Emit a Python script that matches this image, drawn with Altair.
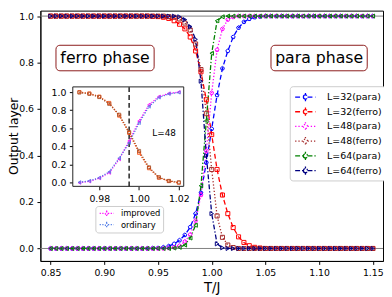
import altair as alt
import pandas as pd

# ---------------- data ----------------
T = [0.850, 0.855, 0.860, 0.865, 0.870, 0.875, 0.880, 0.885, 0.890, 0.895,
     0.900, 0.905, 0.910, 0.915, 0.920, 0.925, 0.930, 0.935, 0.940, 0.945,
     0.950, 0.955, 0.960, 0.965, 0.970, 0.975, 0.980, 0.985, 0.990, 0.995,
     1.000, 1.005, 1.010, 1.015, 1.020, 1.025, 1.030, 1.035, 1.040, 1.045,
     1.050, 1.055, 1.060, 1.065, 1.070, 1.075, 1.080, 1.085, 1.090, 1.095,
     1.100, 1.105, 1.110, 1.115, 1.120, 1.125, 1.130, 1.135, 1.140, 1.145,
     1.150]

para_32 = [0, 0, 0, 0, 0, 0, 0, 0, 0, 0,
           0, 0, 0, 0, 0, 0, 0, 0, 0, 0.001,
           0.002, 0.005, 0.010, 0.020, 0.035, 0.058, 0.092, 0.150, 0.240, 0.370,
           0.515, 0.660, 0.775, 0.850, 0.910, 0.950, 0.975, 0.988, 0.995, 0.998,
           1, 1, 1, 1, 1, 1, 1, 1, 1, 1,
           1, 1, 1, 1, 1, 1, 1, 1, 1, 1,
           1]
ferro_32 = [1, 1, 1, 1, 1, 1, 1, 1, 1, 1,
            1, 1, 1, 1, 1, 1, 1, 1, 1, 0.999,
            0.998, 0.995, 0.990, 0.980, 0.965, 0.945, 0.910, 0.850, 0.760, 0.640,
            0.490, 0.340, 0.230, 0.150, 0.090, 0.050, 0.026, 0.012, 0.005, 0.002,
            0, 0, 0, 0, 0, 0, 0, 0, 0, 0,
            0, 0, 0, 0, 0, 0, 0, 0, 0, 0,
            0]
para_48 = [0, 0, 0, 0, 0, 0, 0, 0, 0, 0,
           0, 0, 0, 0, 0, 0, 0, 0, 0, 0,
           0, 0, 0.002, 0.005, 0.012, 0.030, 0.060, 0.120, 0.230, 0.420,
           0.670, 0.855, 0.945, 0.985, 0.996, 1, 1, 1, 1, 1,
           1, 1, 1, 1, 1, 1, 1, 1, 1, 1,
           1, 1, 1, 1, 1, 1, 1, 1, 1, 1,
           1]
ferro_48 = [1, 1, 1, 1, 1, 1, 1, 1, 1, 1,
            1, 1, 1, 1, 1, 1, 1, 1, 1, 1,
            1, 1, 0.998, 0.995, 0.988, 0.970, 0.940, 0.880, 0.770, 0.580,
            0.340, 0.140, 0.048, 0.015, 0.004, 0, 0, 0, 0, 0,
            0, 0, 0, 0, 0, 0, 0, 0, 0, 0,
            0, 0, 0, 0, 0, 0, 0, 0, 0, 0,
            0]
para_64 = [0, 0, 0, 0, 0, 0, 0, 0, 0, 0,
           0, 0, 0, 0, 0, 0, 0, 0, 0, 0,
           0, 0, 0, 0.002, 0.005, 0.015, 0.045, 0.100, 0.270, 0.550,
           0.840, 0.980, 0.997, 1, 1, 1, 1, 1, 1, 1,
           1, 1, 1, 1, 1, 1, 1, 1, 1, 1,
           1, 1, 1, 1, 1, 1, 1, 1, 1, 1,
           1]
ferro_64 = [1, 1, 1, 1, 1, 1, 1, 1, 1, 1,
            1, 1, 1, 1, 1, 1, 1, 1, 1, 1,
            1, 1, 1, 1, 0.997, 0.985, 0.955, 0.900, 0.720, 0.400,
            0.150, 0.020, 0.003, 0, 0, 0, 0, 0, 0, 0,
            0, 0, 0, 0, 0, 0, 0, 0, 0, 0,
            0, 0, 0, 0, 0, 0, 0, 0, 0, 0,
            0]

series_names = ["L=32(para)", "L=32(ferro)", "L=48(para)", "L=48(ferro)",
                "L=64(para)", "L=64(ferro)"]
series_values = [para_32, ferro_32, para_48, ferro_48, para_64, ferro_64]

# inset (L=48, improved vs ordinary)
T_in = [0.970, 0.975, 0.980, 0.985, 0.990, 0.995, 1.000, 1.005, 1.010, 1.015, 1.020]
improved_para = [0.000, 0.015, 0.050, 0.110, 0.260, 0.460, 0.680, 0.860, 0.950, 0.985, 1.000]
ordinary_para = [0.005, 0.020, 0.055, 0.120, 0.270, 0.440, 0.660, 0.840, 0.940, 0.980, 0.995]
improved_ferro = [1.000, 0.985, 0.950, 0.880, 0.740, 0.550, 0.330, 0.160, 0.055, 0.018, 0.000]
ordinary_ferro = [0.995, 0.980, 0.945, 0.870, 0.750, 0.560, 0.350, 0.170, 0.060, 0.020, 0.005]
inset_names = ["improved", "ordinary", "improved (ferro)", "ordinary (ferro)"]
inset_values = [improved_para, ordinary_para, improved_ferro, ordinary_ferro]
Tc_inset = [0.995]

x_ticks = [0.85, 0.90, 0.95, 1.00, 1.05, 1.10, 1.15]
y_ticks = [0.0, 0.2, 0.4, 0.6, 0.8, 1.0]
x_ticks_in = [0.98, 1.00, 1.02]
hlines = [0.0, 1.0]

phase_labels = ["ferro phase", "para phase"]
phase_x = [0.9007, 1.1000]
phase_y = [0.8196, 0.8196]
phase_x0 = [0.8550, 1.0552]
phase_x1 = [0.9464, 1.1448]
phase_y0 = [0.7647, 0.7647]
phase_y1 = [0.8745, 0.8745]

# ---------------- styling ----------------
FONT = "DejaVu Sans"
PENT = "M0,-1L0.951,-0.309L0.588,0.809L-0.588,0.809L-0.951,-0.309Z"
series_colors = ["#0000ff", "#ff0000", "#ff00ff", "#a52a2a", "#008000", "#000080"]
series_dash = [[5, 3], [5, 3], [1.3, 2], [1.3, 2], [5, 2, 1.3, 2], [5, 2, 1.3, 2]]
series_shapes = [PENT, "square", PENT, "square", "triangle-left", "triangle-right"]
inset_colors = ["#ff00ff", "#4f7be6", "#ff4500", "#a0522d"]
inset_shapes = ["triangle-left", "triangle-left", "square", "square"]

# legend glyph: line + small open marker + tiny error bar (spans -1.5..1.5)
LEG_SYM = ("M-1.5,0H-0.3M0.3,0H1.5M-0.3,0A0.3,0.3 0 1,0 0.3,0"
           "A0.3,0.3 0 1,0 -0.3,0M0,-0.6V-0.3M0,0.3V0.6")

rows = []
for k, (name, vals) in enumerate(zip(series_names, series_values)):
    for t, v in zip(T, vals):
        rows.append({"T": t, "v": v, "s": name, "k": k})
main_df = pd.DataFrame(rows)

irows = []
for k, (name, vals) in enumerate(zip(inset_names, inset_values)):
    for t, v in zip(T_in, vals):
        irows.append({"T": t, "v": v, "s": name, "k": k})
inset_df = pd.DataFrame(irows)

hl_df = pd.DataFrame({"v": hlines})
phase_df = pd.DataFrame({"label": phase_labels, "x": phase_x, "y": phase_y,
                         "x0": phase_x0, "x1": phase_x1, "y0": phase_y0, "y1": phase_y1})

XD = [0.8405, 1.1595]
YD = [-0.0537, 1.0236]
xs = alt.Scale(domain=XD, nice=False, zero=False)
ys = alt.Scale(domain=YD, nice=False, zero=False)
x_axis = alt.Axis(values=x_ticks, format=".2f", title="T/J", labelFlush=False,
                  titleFontSize=13.5, titlePadding=4)
y_axis = alt.Axis(values=y_ticks, format=".1f", title="Output layer",
                  titleFontSize=12.5, titleX=-27, titleBaseline="middle", labelFlush=False)


def mx(f):
    return alt.X(f, type="quantitative", scale=xs, axis=x_axis)


def my(f):
    return alt.Y(f, type="quantitative", scale=ys, axis=y_axis)


main_legend = alt.Legend(title=None, orient="none", legendX=254, legendY=77,
                         symbolType=LEG_SYM, symbolSize=196, symbolStrokeWidth=1.3,
                         symbolOffset=5,
                         labelFontSize=9.6, labelFont=FONT, labelColor="black",
                         rowPadding=0, padding=3, strokeColor="#cccccc",
                         fillColor="white", cornerRadius=3, labelOffset=14)
color_main = alt.Color("s:N", scale=alt.Scale(domain=series_names, range=series_colors),
                       legend=main_legend)
dash_main = alt.StrokeDash("s:N", scale=alt.Scale(domain=series_names, range=series_dash),
                           legend=main_legend)

hl = alt.Chart(hl_df).mark_rule(color="#808080", strokeWidth=1).encode(y=my("v"))
lines = alt.Chart(main_df).mark_line(strokeWidth=1.3).encode(
    x=mx("T"), y=my("v"), color=color_main, strokeDash=dash_main,
    detail="s:N", order="T:Q")
point_layers = []
for name, col, shp in zip(series_names, series_colors, series_shapes):
    point_layers.append(
        alt.Chart(main_df).transform_filter(alt.datum.s == name).mark_point(
            filled=False, size=17, strokeWidth=1, opacity=1, shape=shp, color=col
        ).encode(x=mx("T"), y=my("v")))
boxes = alt.Chart(phase_df).mark_rect(fill="white", stroke="#8b1a1a", strokeWidth=1,
                                      cornerRadius=4).encode(
    x=mx("x0"), x2="x1", y=my("y0"), y2="y1")
texts = alt.Chart(phase_df).mark_text(fontSize=16, font=FONT, color="black",
                                      align="center", baseline="middle").encode(
    x=mx("x"), y=my("y"), text="label:N")

main = alt.layer(hl, lines, *point_layers, boxes, texts)

# ---------------- inset ----------------
IXD = [0.96667, 1.02247]
IYD = [-0.040, 1.057]
ixs = alt.Scale(domain=IXD, range=[33, 146], nice=False, zero=False)
iys = alt.Scale(domain=IYD, range=[179, 77.7], nice=False, zero=False)
ix_axis = alt.Axis(orient="bottom", offset=-76, values=x_ticks_in, format=".2f", title=None,
                   domain=False, labelFlush=False)
iy_axis = alt.Axis(orient="left", offset=-33, values=y_ticks, format=".1f", title=None,
                   domain=False, labelFlush=False)


def ix(f):
    return alt.X(f, type="quantitative", scale=ixs, axis=ix_axis)


def iy(f):
    return alt.Y(f, type="quantitative", scale=iys, axis=iy_axis)


frame_df = pd.DataFrame({"x0": [IXD[0]], "x1": [IXD[1]], "y0": [IYD[0]], "y1": [IYD[1]]})
rule_df = pd.DataFrame({"T": Tc_inset, "y0": [IYD[0]], "y1": [IYD[1]]})
lab_df = pd.DataFrame({"T": [1.0126], "v": [0.545], "t": ["L=48"]})

inset_legend = alt.Legend(title=None, orient="none", legendX=56, legendY=199,
                          values=["improved", "ordinary"],
                          symbolType=LEG_SYM, symbolSize=90, symbolStrokeWidth=1.2,
                          symbolDash=[1.2, 1.5], symbolOffset=4,
                          labelFontSize=8.5, labelFont=FONT, labelColor="black",
                          rowPadding=0.5, padding=2, strokeColor="#cccccc",
                          fillColor="white", cornerRadius=3, labelOffset=9)
color_in = alt.Color("s:N", scale=alt.Scale(domain=inset_names, range=inset_colors),
                     legend=inset_legend)

frame = alt.Chart(frame_df).mark_rect(fill="white", stroke="#222222", strokeWidth=1).encode(
    x=ix("x0"), x2="x1", y=iy("y0"), y2="y1")
vrule = alt.Chart(rule_df).mark_rule(color="black", strokeDash=[5, 3], strokeWidth=1.3).encode(
    x=ix("T"), y=iy("y0"), y2="y1")
ilines = alt.Chart(inset_df).mark_line(strokeWidth=1.3, strokeDash=[1.2, 1.5]).encode(
    x=ix("T"), y=iy("v"), color=color_in, detail="s:N", order="T:Q")
ipoint_layers = []
for name, col, shp in zip(inset_names, inset_colors, inset_shapes):
    ipoint_layers.append(
        alt.Chart(inset_df).transform_filter(alt.datum.s == name).mark_point(
            filled=False, size=10, strokeWidth=0.8, opacity=1, shape=shp, color=col
        ).encode(x=ix("T"), y=iy("v")))
itext = alt.Chart(lab_df).mark_text(fontSize=9, font=FONT, color="black",
                                    align="center", baseline="middle").encode(
    x=ix("T"), y=iy("v"), text="t:N")

inset = alt.layer(frame, vrule, ilines, *ipoint_layers, itext)

chart = alt.layer(main, inset).resolve_scale(
    x="independent", y="independent", color="independent", strokeDash="independent"
).properties(
    width=349, height=255,
    padding={"left": 33, "top": 0, "right": 1, "bottom": 32},
    autosize=alt.AutoSizeParams(type="none"),
).configure_axis(
    labelFont=FONT, titleFont=FONT, labelFontSize=9.5, tickSize=3.5, labelPadding=3.5,
    tickColor="black", domainColor="black", labelColor="black", titleColor="black",
    titleFontWeight="normal", grid=False, tickWidth=1, domainWidth=1,
).configure_view(stroke="black", strokeWidth=1)

chart.save("out.html", embed_options={"renderer": "svg", "actions": False})
